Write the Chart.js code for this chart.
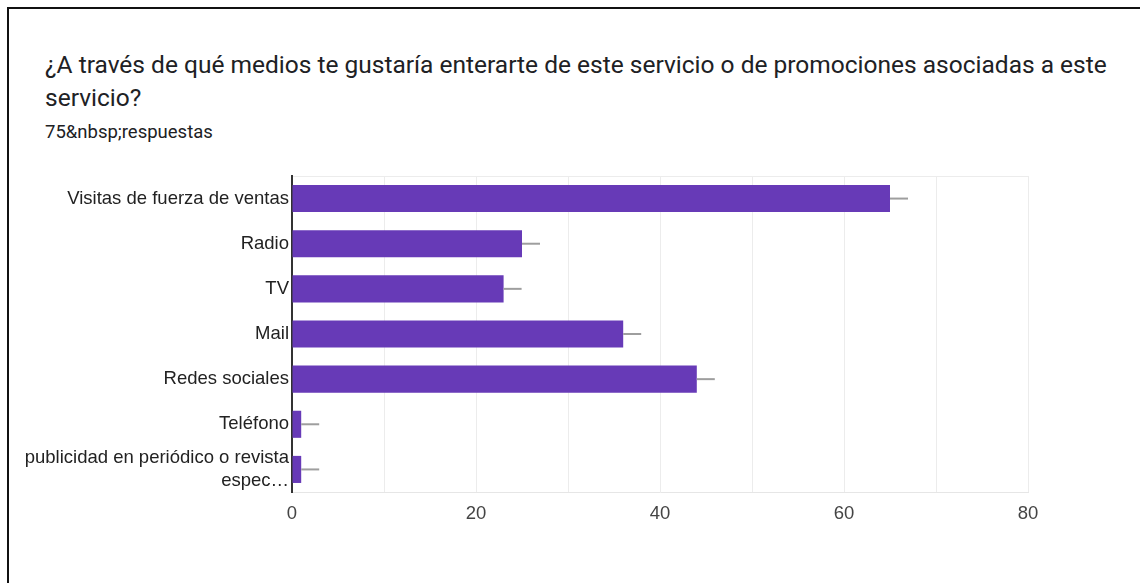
<!DOCTYPE html>
<html lang="es">
<head>
<meta charset="utf-8">
<title>Medios preferidos</title>
<script src="https://cdn.jsdelivr.net/npm/chart.js@4/dist/chart.umd.min.js"></script>
<style>
  html, body { margin: 0; padding: 0; background: #fff; }
  body { width: 1140px; height: 583px; overflow: hidden; position: relative; }
  .frame {
    position: absolute; left: 7px; top: 7px; width: 1200px; height: 700px;
    border-top: 2px solid #111; border-left: 2px solid #111;
  }
  .title {
    position: absolute; left: 45px; top: 48px; width: 1080px;
    font-family: Roboto, "Open Sans", sans-serif; font-size: 24.5px;
    line-height: 33px; color: #202124;
  }
  .subtitle {
    position: absolute; left: 45px; top: 121px;
    font-family: Roboto, "Open Sans", sans-serif; font-size: 18.5px; color: #202124;
  }
  #wrap { position: absolute; left: 0; top: 150px; width: 1140px; height: 400px; }
</style>
</head>
<body>
<div class="frame"></div>
<div class="title">¿A través de qué medios te gustaría enterarte de este servicio o de promociones asociadas a este servicio?</div>
<div class="subtitle">75&amp;nbsp;respuestas</div>
<div id="wrap"><canvas id="mediosChart"></canvas></div>

<script>
const categories = [
  "Visitas de fuerza de ventas",
  "Radio",
  "TV",
  "Mail",
  "Redes sociales",
  "Teléfono",
  ["publicidad en periódico o revista", "espec…"]
];
const counts = [65, 25, 23, 36, 44, 1, 1];
const xTicks = [0, 20, 40, 60, 80];

// short grey stub drawn right after each bar end
const barStubs = {
  id: "barStubs",
  afterDatasetsDraw(chart) {
    const ctx = chart.ctx;
    ctx.save();
    ctx.strokeStyle = "#9e9e9e";
    ctx.lineWidth = 2;
    chart.getDatasetMeta(0).data.forEach((bar) => {
      ctx.beginPath();
      ctx.moveTo(bar.x, bar.y);
      ctx.lineTo(bar.x + 18, bar.y);
      ctx.stroke();
    });
    ctx.restore();
  }
};

const labelFont = { family: "Liberation Sans, Arial, sans-serif", size: 18.5 };

const ctx = document.getElementById("mediosChart").getContext("2d");
new Chart(ctx, {
  type: "bar",
  data: {
    labels: categories,
    datasets: [{
      data: counts,
      backgroundColor: "#673ab7",
      borderWidth: 0,
      categoryPercentage: 1,
      barPercentage: 0.6
    }]
  },
  options: {
    indexAxis: "y",
    responsive: true,
    maintainAspectRatio: false,
    animation: false,
    layout: { padding: { top: 26, right: 112, bottom: 18, left: 0 } },
    plugins: { legend: { display: false }, tooltip: { enabled: false } },
    scales: {
      x: {
        min: 0,
        max: 80,
        afterBuildTicks(scale) {
          const t = [];
          for (let v = 0; v <= 80; v += 10) t.push({ value: v });
          scale.ticks = t;
        },
        afterFit(scale) { scale.height = 40; },
        ticks: {
          autoSkip: false,
          maxRotation: 0,
          padding: 11,
          color: "#444",
          font: labelFont,
          callback: (v) => (xTicks.includes(v) ? String(v) : "")
        },
        grid: { color: "#ececec", lineWidth: 1, drawTicks: false },
        border: { color: "#e6e6e6", width: 1 }
      },
      y: {
        afterFit(scale) { scale.width = 292; },
        ticks: {
          autoSkip: false,
          padding: 3,
          color: "#222",
          font: labelFont
        },
        grid: {
          drawTicks: false,
          color: (c) => (c.index === 0 ? "#ececec" : "rgba(0,0,0,0)")
        },
        border: { color: "#333", width: 2 }
      }
    }
  },
  plugins: [barStubs]
});
</script>
</body>
</html>
